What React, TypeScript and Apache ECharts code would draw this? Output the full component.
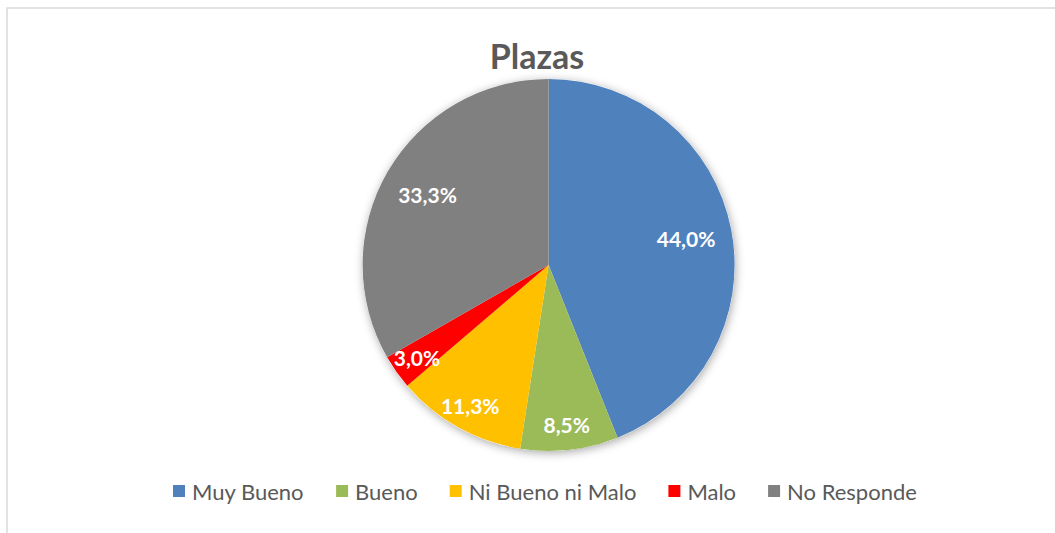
import React, { useEffect, useRef } from "react";
import * as echarts from "echarts";

const categories = ["Muy Bueno", "Bueno", "Ni Bueno ni Malo", "Malo", "No Responde"];
const values = [44.0, 8.5, 11.3, 3.0, 33.3];
const colors = ["#4f81bd", "#9bbb59", "#ffc000", "#ff0000", "#808080"];
const labelGroupOuter = [false, true, true, true, false];
const titleText = "Plazas";

const FONT = "Lato, 'Open Sans', sans-serif";
const CENTER = ["52%", "49.7%"];
const R = 186;

export default function App() {
  const ref = useRef<HTMLDivElement>(null);
  useEffect(() => {
    if (!ref.current) return;
    const chart = echarts.init(ref.current, undefined, { renderer: "svg" });
    const fmt = (v: number) => v.toFixed(1).replace(".", ",") + "%";
    const pieData = categories.map((c, i) => ({ name: c, value: values[i], itemStyle: { color: colors[i] } }));
    const labelSeries = (outer: boolean, radius: number) => ({
      type: "pie",
      silent: true,
      center: CENTER,
      radius: [0, radius],
      startAngle: 90,
      clockwise: true,
      z: 5,
      legendHoverLink: false,
      itemStyle: { color: "rgba(0,0,0,0)" },
      labelLine: { show: false },
      emphasis: { disabled: true },
      data: categories.map((c, i) => ({
        name: c + " ",
        value: values[i],
        label: {
          show: labelGroupOuter[i] === outer,
          position: "inside",
          formatter: () => fmt(values[i]),
          color: "#ffffff",
          fontFamily: FONT,
          fontWeight: "bold",
          fontSize: 21,
        },
      })),
    });
    chart.setOption({
      animation: false,
      backgroundColor: "#ffffff",
      title: {
        text: titleText,
        left: 532,
        top: 33,
        textAlign: "center",
        textStyle: { fontFamily: FONT, fontWeight: "bold", fontSize: 34, color: "#595959" },
      },
      legend: {
        data: categories,
        left: 173,
        top: 480,
        padding: 0,
        icon: "rect",
        itemWidth: 12,
        itemHeight: 12,
        itemGap: 32,
        textStyle: { fontFamily: FONT, fontSize: 22, color: "#595959", padding: [0, 0, 0, 2] },
      },
      graphic: [
        {
          type: "rect",
          silent: true,
          shape: { x: 7, y: 8, width: 1200, height: 700 },
          style: { fill: "none", stroke: "#d9d9d9", lineWidth: 1.5 },
        },
      ],
      series: [
        {
          type: "pie",
          silent: true,
          center: CENTER,
          radius: [0, R],
          z: 1,
          legendHoverLink: false,
          label: { show: false },
          labelLine: { show: false },
          itemStyle: { color: "#ffffff", shadowBlur: 10, shadowColor: "rgba(0,0,0,0.35)", shadowOffsetX: 1, shadowOffsetY: 2 },
          data: [{ name: "_shadow", value: 1 }],
        },
        {
          type: "pie",
          center: CENTER,
          radius: [0, R],
          startAngle: 90,
          clockwise: true,
          z: 2,
          label: { show: false },
          labelLine: { show: false },
          itemStyle: { borderWidth: 0 },
          emphasis: { scale: false },
          data: pieData,
        },
        labelSeries(false, 274),
        labelSeries(true, 316),
      ],
    });
    return () => chart.dispose();
  }, []);
  return <div ref={ref} style={{ position: "fixed", left: 0, top: 0, width: 1055, height: 533 }} />;
}
